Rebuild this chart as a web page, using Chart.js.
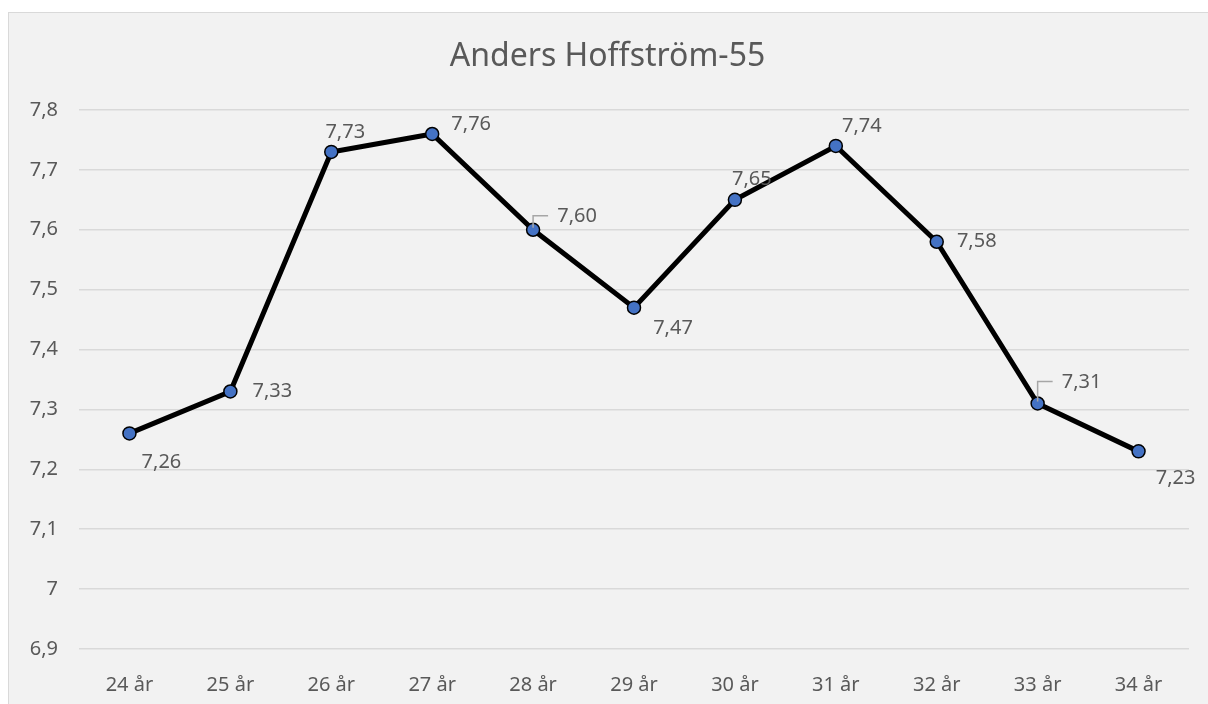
<!DOCTYPE html>
<html>
<head>
<meta charset="utf-8">
<script src="https://cdn.jsdelivr.net/npm/chart.js@4"></script>
<style>
  html, body { margin: 0; padding: 0; background: #ffffff; }
  body { width: 1208px; height: 704px; overflow: hidden; position: relative; }
  #box {
    position: absolute; left: 8px; top: 12px; width: 1200px; height: 692px;
    background: #f2f2f2; border-top: 1px solid #d9d9d9; border-left: 1px solid #d9d9d9;
    box-sizing: border-box;
  }
  #grafico { display: block; }
</style>
</head>
<body>
<div id="box"><canvas id="grafico" width="1199" height="691"></canvas></div>
<script>
const titel = 'Anders Hoffström-55';
const kategorier = ['24 år', '25 år', '26 år', '27 år', '28 år', '29 år', '30 år', '31 år', '32 år', '33 år', '34 år'];
const varden = [7.26, 7.33, 7.73, 7.76, 7.60, 7.47, 7.65, 7.74, 7.58, 7.31, 7.23];
const yMin = 6.9;
const yMax = 7.8;
const ySteg = 0.1;

// var etiketterna hamnar relativt punkten (dx, dy)
const etikettFlytt = [
  [32, 29], [42, 0], [14, -20], [39, -10], [44, -13], [39, 21],
  [17, -21], [26, -20], [40, 0], [44, -21], [37, 27]
];
const ledarLinjer = [4, 9];

const textFarg = '#595959';
const font = '"Noto Sans", sans-serif';

const komma = (v, d) => v.toFixed(d).replace('.', ',');

const etikettPlugin = {
  id: 'etiketter',
  afterDatasetsDraw(chart) {
    const ctx = chart.ctx;
    const meta = chart.getDatasetMeta(0);
    ctx.save();
    meta.data.forEach((p, i) => {
      const [dx, dy] = etikettFlytt[i];
      if (ledarLinjer.includes(i)) {
        ctx.strokeStyle = '#a6a6a6';
        ctx.lineWidth = 1.5;
        ctx.beginPath();
        ctx.moveTo(p.x, p.y - 2);
        ctx.lineTo(p.x, p.y + dy - 1);
        ctx.lineTo(p.x + 15, p.y + dy - 1);
        ctx.stroke();
      }
      ctx.fillStyle = textFarg;
      ctx.font = '20px ' + font;
      ctx.textAlign = 'center';
      ctx.textBaseline = 'middle';
      ctx.fillText(komma(varden[i], 2), p.x + dx, p.y + dy);
    });
    ctx.restore();
  }
};

const ctx = document.getElementById('grafico').getContext('2d');
const grafico = new Chart(ctx, {
  type: 'line',
  data: {
    labels: kategorier,
    datasets: [{
      data: varden,
      borderColor: '#000000',
      borderWidth: 5,
      pointRadius: 6.5,
      pointBackgroundColor: '#4472c4',
      pointBorderColor: '#000000',
      pointBorderWidth: 1.5,
      tension: 0,
      clip: false
    }]
  },
  options: {
    responsive: false,
    animation: false,
    layout: { padding: { left: 17, right: 19, top: 0, bottom: 0 } },
    plugins: {
      legend: { display: false },
      tooltip: { enabled: false },
      title: {
        display: true,
        text: titel,
        color: textFarg,
        font: { family: font, size: 32, weight: 'normal', lineHeight: 1.2 },
        padding: { top: 25, bottom: 33.6 }
      }
    },
    scales: {
      x: {
        offset: true,
        grid: { display: false, drawTicks: false },
        border: { display: false },
        ticks: { color: textFarg, font: { family: font, size: 20 }, padding: 24 },
        afterFit(s) { s.height = 55; }
      },
      y: {
        min: yMin,
        max: yMax,
        ticks: {
          stepSize: ySteg,
          color: textFarg,
          font: { family: font, size: 20 },
          padding: 21,
          callback: v => komma(parseFloat(v.toFixed(1)), v.toFixed(1).endsWith('0') ? 0 : 1)
        },
        grid: { color: '#d9d9d9', lineWidth: 1.5, drawTicks: false },
        border: { display: false },
        afterFit(s) { s.width = 53; }
      }
    }
  },
  plugins: [etikettPlugin]
});
</script>
</body>
</html>
